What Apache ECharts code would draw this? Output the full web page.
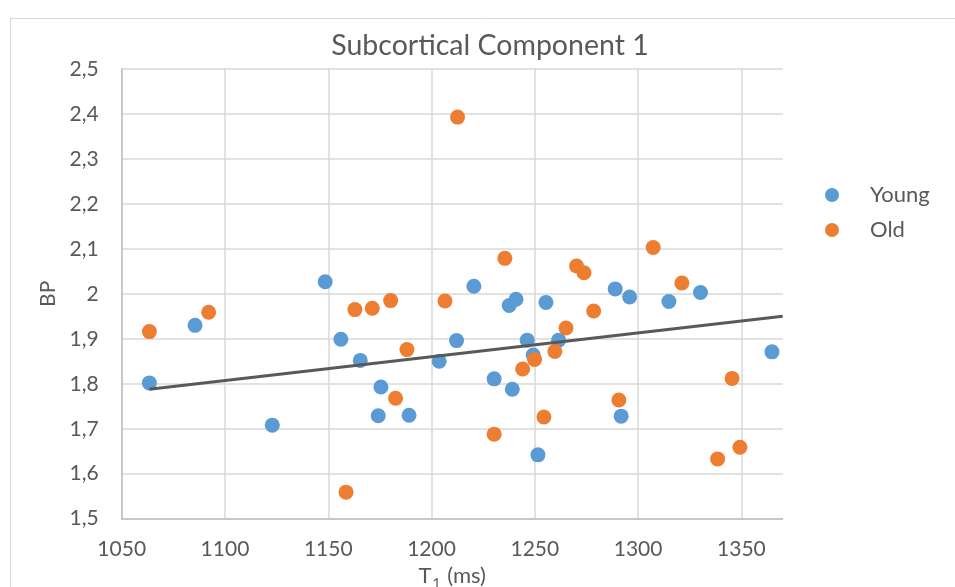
<!DOCTYPE html>
<html>
<head>
<meta charset="utf-8">
<script src="https://cdn.jsdelivr.net/npm/echarts@6/dist/echarts.min.js"></script>
<style>html,body{margin:0;padding:0;background:#fff}#c{width:955px;height:587px}</style>
</head>
<body>
<div id="c"></div>
<script>
const youngT1 = [1063.4, 1085.5, 1122.9, 1148.5, 1156.1, 1165.5, 1174.2, 1175.5, 1189.1, 1203.7, 1212.1, 1220.5, 1230.3, 1237.6, 1239.1, 1240.9, 1246.3, 1249.2, 1251.5, 1255.4, 1261.5, 1288.9, 1291.8, 1295.9, 1314.9, 1330.2, 1364.8];
const youngBP = [1.802, 1.930, 1.708, 2.027, 1.899, 1.852, 1.729, 1.793, 1.730, 1.850, 1.896, 2.017, 1.811, 1.974, 1.788, 1.988, 1.897, 1.864, 1.642, 1.981, 1.897, 2.011, 1.728, 1.993, 1.983, 2.003, 1.871];
const oldT1 = [1063.4, 1092.1, 1158.6, 1162.9, 1171.3, 1180.2, 1182.6, 1188.1, 1206.5, 1212.6, 1230.3, 1235.5, 1244.1, 1249.9, 1254.4, 1259.7, 1265.1, 1270.2, 1273.8, 1278.5, 1290.7, 1307.3, 1321.2, 1338.5, 1345.5, 1349.3];
const oldBP = [1.916, 1.959, 1.559, 1.965, 1.968, 1.985, 1.768, 1.876, 1.984, 2.393, 1.688, 2.079, 1.833, 1.854, 1.726, 1.872, 1.924, 2.062, 2.047, 1.962, 1.764, 2.103, 2.024, 1.633, 1.812, 1.659];
const trendT1 = [1063.4, 1370];
const trendBP = [1.788, 1.950];
const seriesNames = ['Young', 'Old'];
const xTicks = [1050, 1370, 50];
const yTicks = [1.5, 2.5, 0.1];
const titleText = 'Subcortical Component 1';
const xNameMain = 'T';
const xNameSub = '1';
const xNameUnit = ' (ms)';
const yName = 'BP';

const zip = (a, b) => a.map((v, i) => [v, b[i]]);
const font = 'Lato, "Open Sans", sans-serif';
const grey = '#595959';

const chart = echarts.init(document.getElementById('c'), null, {renderer: 'canvas'});
chart.setOption({
  backgroundColor: '#fff',
  animation: false,
  textStyle: {fontFamily: font},
  graphic: [{
    type: 'rect', left: 8, top: 16, shape: {width: 1000, height: 700},
    style: {fill: 'none', stroke: '#d9d9d9', lineWidth: 1}, silent: true, z: -1
  }],
  title: {
    text: titleText, left: 485, top: 26, textAlign: 'center',
    textStyle: {fontFamily: font, fontSize: 28.5, fontWeight: 'normal', color: grey}
  },
  legend: {
    data: seriesNames, orient: 'vertical', left: 825, top: 184, padding: 0,
    icon: 'circle', itemWidth: 14, itemHeight: 14, itemGap: 13,
    textStyle: {fontFamily: font, fontSize: 22, color: grey, padding: [0, 0, 0, 26]}
  },
  grid: {left: 121.7, top: 69, right: 172.3, bottom: 68.3, containLabel: false, outerBoundsMode: 'none'},
  xAxis: {
    type: 'value', min: xTicks[0], max: xTicks[1], interval: xTicks[2],
    name: '{a|' + xNameMain + '}{s|' + xNameSub + '}{a|' + xNameUnit + '}',
    nameLocation: 'middle', nameGap: 42,
    nameTextStyle: {fontFamily: font, fontSize: 22, color: grey,
      rich: {
        a: {fontFamily: font, fontSize: 22, color: grey, lineHeight: 24, verticalAlign: 'top'},
        s: {fontFamily: font, fontSize: 14, color: grey, lineHeight: 14, verticalAlign: 'top', padding: [12, 1, 0, 1]}
      }},
    axisLine: {show: true, lineStyle: {color: '#bfbfbf', width: 1.5}},
    axisTick: {show: false},
    axisLabel: {fontFamily: font, fontSize: 21, color: grey, margin: 20, showMaxLabel: false,
      formatter: v => String(v)},
    splitLine: {show: true, showMaxLine: false, lineStyle: {color: '#d9d9d9', width: 1.5}}
  },
  yAxis: {
    type: 'value', min: yTicks[0], max: yTicks[1], interval: yTicks[2],
    name: yName, nameLocation: 'middle', nameGap: 58,
    nameTextStyle: {fontFamily: font, fontSize: 21, color: grey},
    axisLine: {show: true, lineStyle: {color: '#bfbfbf', width: 1.5}},
    axisTick: {show: false},
    axisLabel: {fontFamily: font, fontSize: 21, color: grey, margin: 23,
      formatter: v => v.toFixed(1).replace('.', ',').replace(/,0$/, '')},
    splitLine: {show: true, lineStyle: {color: '#d9d9d9', width: 1.5}}
  },
  series: [
    {name: seriesNames[0], type: 'scatter', symbolSize: 15, data: zip(youngT1, youngBP),
      itemStyle: {color: '#5B9BD5', opacity: 1}, z: 3},
    {name: seriesNames[1], type: 'scatter', symbolSize: 15, data: zip(oldT1, oldBP),
      itemStyle: {color: '#ED7D31', opacity: 1}, z: 3},
    {name: 'Trend', type: 'line', data: zip(trendT1, trendBP), symbol: 'none',
      lineStyle: {color: '#595959', width: 3}, z: 4, silent: true}
  ]
});
</script>
</body>
</html>
